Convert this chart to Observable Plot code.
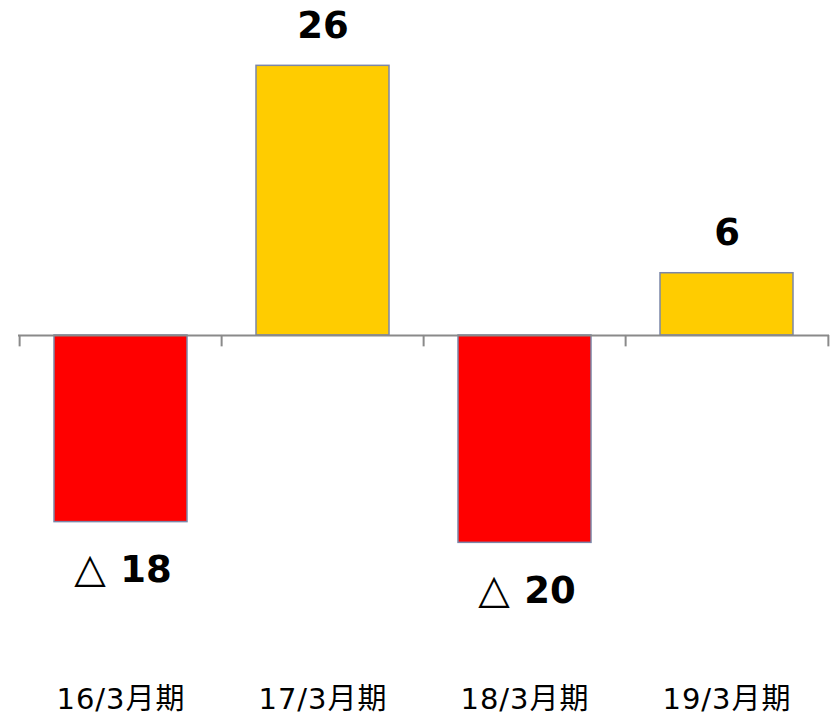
<!DOCTYPE html>
<html>
<head>
<meta charset="utf-8">
<script src="https://cdn.jsdelivr.net/npm/d3@7"></script>
<script src="https://cdn.jsdelivr.net/npm/@observablehq/plot@0.6"></script>
<style>
  html, body { margin: 0; padding: 0; background: #fff; }
  #chart g[aria-label="x-axis tick label"] text { letter-spacing: 1px; }
</style>
</head>
<body>
<div id="chart"></div>
<script>
// 期別の損益（△はマイナス）
const periods = ["16/3月期", "17/3月期", "18/3月期", "19/3月期"];
const values = [-18, 26, -20, 6];

const data = periods.map((period, i) => ({period, value: values[i]}));

const W = 835, H = 718;
const marginLeft = 18, marginRight = 6;
const step = (W - marginLeft - marginRight) / periods.length;

const fontFamily = "'DejaVu Sans', Verdana, 'Noto Sans CJK JP', sans-serif";
const neg = data.filter(d => d.value < 0);
const pos = data.filter(d => d.value >= 0);

const chart = Plot.plot({
  width: W,
  height: H,
  marginTop: 0,
  marginBottom: 40,
  marginLeft,
  marginRight,
  style: {fontFamily, background: "#fff", color: "#000"},
  x: {domain: periods, paddingInner: 0.34, paddingOuter: 0.17},
  y: {domain: [-33.08, 32.3], axis: null},
  marks: [
    Plot.barY(data, {
      x: "period",
      y: "value",
      fill: d => d.value < 0 ? "#ff0000" : "#ffcc00",
      stroke: "#7b86a8",
      strokeWidth: 1.5
    }),
    // baseline with tick marks between periods
    Plot.ruleY([0], {stroke: "#8a8a8a", strokeWidth: 2}),
    Plot.ruleX(periods, {x: d => d, y1: 0, y2: -1.1, dx: -step / 2, stroke: "#8a8a8a", strokeWidth: 2}),
    Plot.ruleX(periods.slice(-1), {x: d => d, y1: 0, y2: -1.1, dx: step / 2, stroke: "#8a8a8a", strokeWidth: 2}),
    // value labels
    Plot.text(pos, {
      x: "period", y: "value", text: d => String(d.value),
      lineAnchor: "bottom", dy: -28,
      fontSize: 37, fontWeight: "bold", fill: "#000"
    }),
    Plot.text(neg, {
      x: "period", y: "value", text: d => "△",
      lineAnchor: "bottom", dy: 60, dx: -31,
      fontSize: 41, fontWeight: "normal", fill: "#000"
    }),
    Plot.text(neg, {
      x: "period", y: "value", text: d => String(Math.abs(d.value)),
      lineAnchor: "bottom", dy: 60, dx: 25,
      fontSize: 37, fontWeight: "bold", fill: "#000"
    }),
    Plot.axisX({anchor: "bottom", tickSize: 0, tickPadding: 10, fontSize: 29, fontWeight: "normal", label: null, fill: "#000"})
  ]
});

document.getElementById("chart").append(chart);
</script>
</body>
</html>
